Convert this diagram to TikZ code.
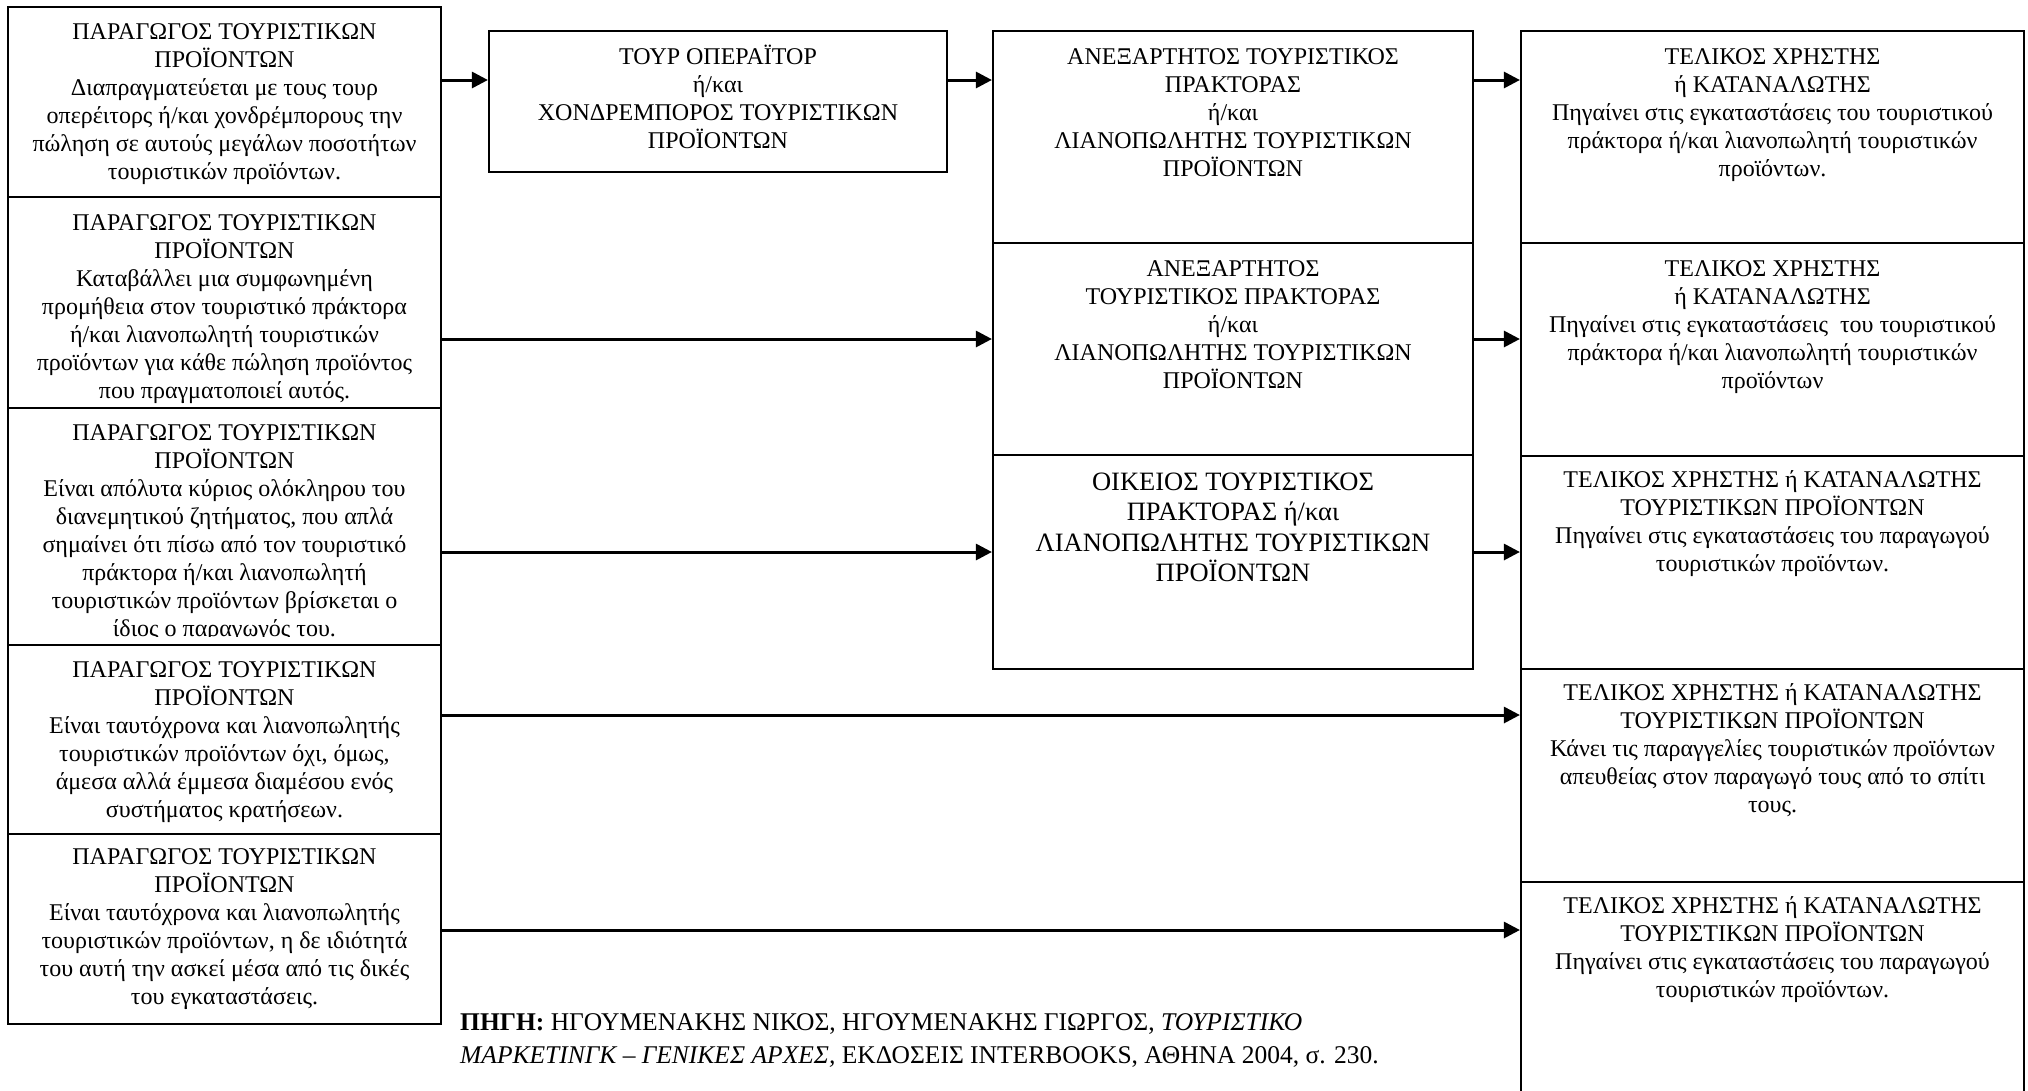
\documentclass[tikz,border=0pt]{standalone}
\usepackage{fontspec}
\setmainfont{Liberation Serif}
\usetikzlibrary{arrows.meta}

% invisible strut that fixes the height of a node's first line
\newcommand\firstline{\vrule height 22pt depth 0pt width 0pt}

\begin{document}
\begin{tikzpicture}[x=1pt,y=-1pt,
  box/.style={draw, line width=2.2pt, inner sep=0pt, fill=white},
  txt/.style={anchor=north, inner sep=0pt, align=center,
              font=\fontsize{24}{28}\selectfont},
  bigtxt/.style={anchor=north, inner sep=0pt, align=center,
              font=\fontsize{26.5}{30.5}\selectfont},
  arr/.style={line width=3pt, -{Triangle[length=16pt,width=16pt]}},
]
\useasboundingbox (0,0) rectangle (2028,1090);

% rows of the arrows
\coordinate (a1) at (0,80);
\coordinate (a2) at (0,339);
\coordinate (a3) at (0,552);
\coordinate (a4) at (0,715);
\coordinate (a5) at (0,930);

% ---------- producers (left column) ----------
\node[box, minimum width=433pt, minimum height=190pt] (L1) at (224.5,102) {};
\node[txt] (L1t) at ([yshift=-11pt]L1.north) {\firstline ΠΑΡΑΓΩΓΟΣ ΤΟΥΡΙΣΤΙΚΩΝ\\ΠΡΟΪΟΝΤΩΝ\\
  Διαπραγματεύεται με τους τουρ\\οπερέιτορς ή/και χονδρέμπορους την\\
  πώληση σε αυτούς μεγάλων ποσοτήτων\\τουριστικών προϊόντων.};

\node[box, minimum width=433pt, minimum height=211pt] (L2) at (224.5,302.5) {};
\node[txt] (L2t) at ([yshift=-12pt]L2.north) {\firstline ΠΑΡΑΓΩΓΟΣ ΤΟΥΡΙΣΤΙΚΩΝ\\ΠΡΟΪΟΝΤΩΝ\\
  Καταβάλλει μια συμφωνημένη\\προμήθεια στον τουριστικό πράκτορα\\
  ή/και λιανοπωλητή τουριστικών\\προϊόντων για κάθε πώληση προϊόντος\\
  που πραγματοποιεί αυτός.};

\node[box, minimum width=433pt, minimum height=237pt] (L3) at (224.5,526.5) {};
% the last line of this text is cut off by the lower edge of its frame
\begin{scope}
  \clip ([yshift=-1pt]L3.north west) rectangle ([yshift=10pt]L3.south east);
  \node[txt] (L3t) at ([yshift=-11pt]L3.north) {\firstline ΠΑΡΑΓΩΓΟΣ ΤΟΥΡΙΣΤΙΚΩΝ\\ΠΡΟΪΟΝΤΩΝ\\
    Είναι απόλυτα κύριος ολόκληρου του\\διανεμητικού ζητήματος, που απλά\\
    σημαίνει ότι πίσω από τον τουριστικό\\πράκτορα ή/και λιανοπωλητή\\
    τουριστικών προϊόντων βρίσκεται ο\\ίδιος ο παραγωγός του.};
\end{scope}

\node[box, minimum width=433pt, minimum height=189pt] (L4) at (224.5,739.5) {};
\node[txt] (L4t) at ([yshift=-11pt]L4.north) {\firstline ΠΑΡΑΓΩΓΟΣ ΤΟΥΡΙΣΤΙΚΩΝ\\ΠΡΟΪΟΝΤΩΝ\\
  Είναι ταυτόχρονα και λιανοπωλητής\\τουριστικών προϊόντων όχι, όμως,\\
  άμεσα αλλά έμμεσα διαμέσου ενός\\συστήματος κρατήσεων.};

\node[box, minimum width=433pt, minimum height=190pt] (L5) at (224.5,929) {};
\node[txt] (L5t) at ([yshift=-9pt]L5.north) {\firstline ΠΑΡΑΓΩΓΟΣ ΤΟΥΡΙΣΤΙΚΩΝ\\ΠΡΟΪΟΝΤΩΝ\\
  Είναι ταυτόχρονα και λιανοπωλητής\\τουριστικών προϊόντων, η δε ιδιότητά\\
  του αυτή την ασκεί μέσα από τις δικές\\του εγκαταστάσεις.};

% ---------- tour operator / wholesaler ----------
\node[box, minimum width=458pt, minimum height=141pt] (T) at (718,101.5) {};
\node[txt] (Tt) at ([yshift=-12pt]T.north) {\firstline ΤΟΥΡ ΟΠΕΡΑΪΤΟΡ\\ή/και\\
  ΧΟΝΔΡΕΜΠΟΡΟΣ ΤΟΥΡΙΣΤΙΚΩΝ\\ΠΡΟΪΟΝΤΩΝ};

% ---------- agents / retailers (middle column) ----------
\node[box, minimum width=480pt, minimum height=212pt] (M1) at (1233,137) {};
\node[txt] (M1t) at ([yshift=-12pt]M1.north) {\firstline ΑΝΕΞΑΡΤΗΤΟΣ ΤΟΥΡΙΣΤΙΚΟΣ\\ΠΡΑΚΤΟΡΑΣ\\ή/και\\
  ΛΙΑΝΟΠΩΛΗΤΗΣ ΤΟΥΡΙΣΤΙΚΩΝ\\ΠΡΟΪΟΝΤΩΝ};

\node[box, minimum width=480pt, minimum height=212pt] (M2) at (1233,349) {};
\node[txt] (M2t) at ([yshift=-12pt]M2.north) {\firstline ΑΝΕΞΑΡΤΗΤΟΣ\\ΤΟΥΡΙΣΤΙΚΟΣ ΠΡΑΚΤΟΡΑΣ\\ή/και\\
  ΛΙΑΝΟΠΩΛΗΤΗΣ ΤΟΥΡΙΣΤΙΚΩΝ\\ΠΡΟΪΟΝΤΩΝ};

\node[box, minimum width=480pt, minimum height=214pt] (M3) at (1233,562) {};
\node[bigtxt] (M3t) at ([yshift=-14pt]M3.north) {\firstline ΟΙΚΕΙΟΣ ΤΟΥΡΙΣΤΙΚΟΣ\\ΠΡΑΚΤΟΡΑΣ ή/και\\
  ΛΙΑΝΟΠΩΛΗΤΗΣ ΤΟΥΡΙΣΤΙΚΩΝ\\ΠΡΟΪΟΝΤΩΝ};

% ---------- end users (right column) ----------
\node[box, minimum width=503pt, minimum height=212pt] (R1) at (1772.5,137) {};
\node[txt] (R1t) at ([yshift=-12pt]R1.north) {\firstline ΤΕΛΙΚΟΣ ΧΡΗΣΤΗΣ\\ή ΚΑΤΑΝΑΛΩΤΗΣ\\
  Πηγαίνει στις εγκαταστάσεις του τουριστικού\\πράκτορα ή/και λιανοπωλητή τουριστικών\\προϊόντων.};

\node[box, minimum width=503pt, minimum height=213pt] (R2) at (1772.5,349.5) {};
\node[txt] (R2t) at ([yshift=-12pt]R2.north) {\firstline ΤΕΛΙΚΟΣ ΧΡΗΣΤΗΣ\\ή ΚΑΤΑΝΑΛΩΤΗΣ\\
  Πηγαίνει στις εγκαταστάσεις~ του τουριστικού\\πράκτορα ή/και λιανοπωλητή τουριστικών\\προϊόντων};

\node[box, minimum width=503pt, minimum height=213pt] (R3) at (1772.5,562.5) {};
\node[txt] (R3t) at ([yshift=-10pt]R3.north) {\firstline ΤΕΛΙΚΟΣ ΧΡΗΣΤΗΣ ή ΚΑΤΑΝΑΛΩΤΗΣ\\ΤΟΥΡΙΣΤΙΚΩΝ ΠΡΟΪΟΝΤΩΝ\\
  Πηγαίνει στις εγκαταστάσεις του παραγωγού\\τουριστικών προϊόντων.};

\node[box, minimum width=503pt, minimum height=213pt] (R4) at (1772.5,775.5) {};
\node[txt] (R4t) at ([yshift=-10pt]R4.north) {\firstline ΤΕΛΙΚΟΣ ΧΡΗΣΤΗΣ ή ΚΑΤΑΝΑΛΩΤΗΣ\\ΤΟΥΡΙΣΤΙΚΩΝ ΠΡΟΪΟΝΤΩΝ\\
  Κάνει τις παραγγελίες τουριστικών προϊόντων\\απευθείας στον παραγωγό τους από το σπίτι\\τους.};

\node[box, minimum width=503pt, minimum height=230pt] (R5) at (1772.5,997) {};
\node[txt] (R5t) at ([yshift=-10pt]R5.north) {\firstline ΤΕΛΙΚΟΣ ΧΡΗΣΤΗΣ ή ΚΑΤΑΝΑΛΩΤΗΣ\\ΤΟΥΡΙΣΤΙΚΩΝ ΠΡΟΪΟΝΤΩΝ\\
  Πηγαίνει στις εγκαταστάσεις του παραγωγού\\τουριστικών προϊόντων.};

% ---------- connectors ----------
\draw[arr] (L1.east |- a1) -- (T.west |- a1);
\draw[arr] (T.east |- a1) -- (M1.west |- a1);
\draw[arr] (M1.east |- a1) -- (R1.west |- a1);
\draw[arr] (L2.east |- a2) -- (M2.west |- a2);
\draw[arr] (M2.east |- a2) -- (R2.west |- a2);
\draw[arr] (L3.east |- a3) -- (M3.west |- a3);
\draw[arr] (M3.east |- a3) -- (R3.west |- a3);
\draw[arr] (L4.east |- a4) -- (R4.west |- a4);
\draw[arr] (L5.east |- a5) -- (R5.west |- a5);

% ---------- source ----------
\node[anchor=north west, inner sep=0pt, align=left,
      font=\fontsize{25.5}{33}\selectfont] (src) at (460,1008)
  {\firstline\textbf{ΠΗΓΗ:} ΗΓΟΥΜΕΝΑΚΗΣ ΝΙΚΟΣ, ΗΓΟΥΜΕΝΑΚΗΣ ΓΙΩΡΓΟΣ, \textit{ΤΟΥΡΙΣΤΙΚΟ}\\
   \textit{ΜΑΡΚΕΤΙΝΓΚ – ΓΕΝΙΚΕΣ ΑΡΧΕΣ,} ΕΚΔΟΣΕΙΣ INTERBOOKS, ΑΘΗΝΑ 2004, σ. 230.};
\end{tikzpicture}
\end{document}
